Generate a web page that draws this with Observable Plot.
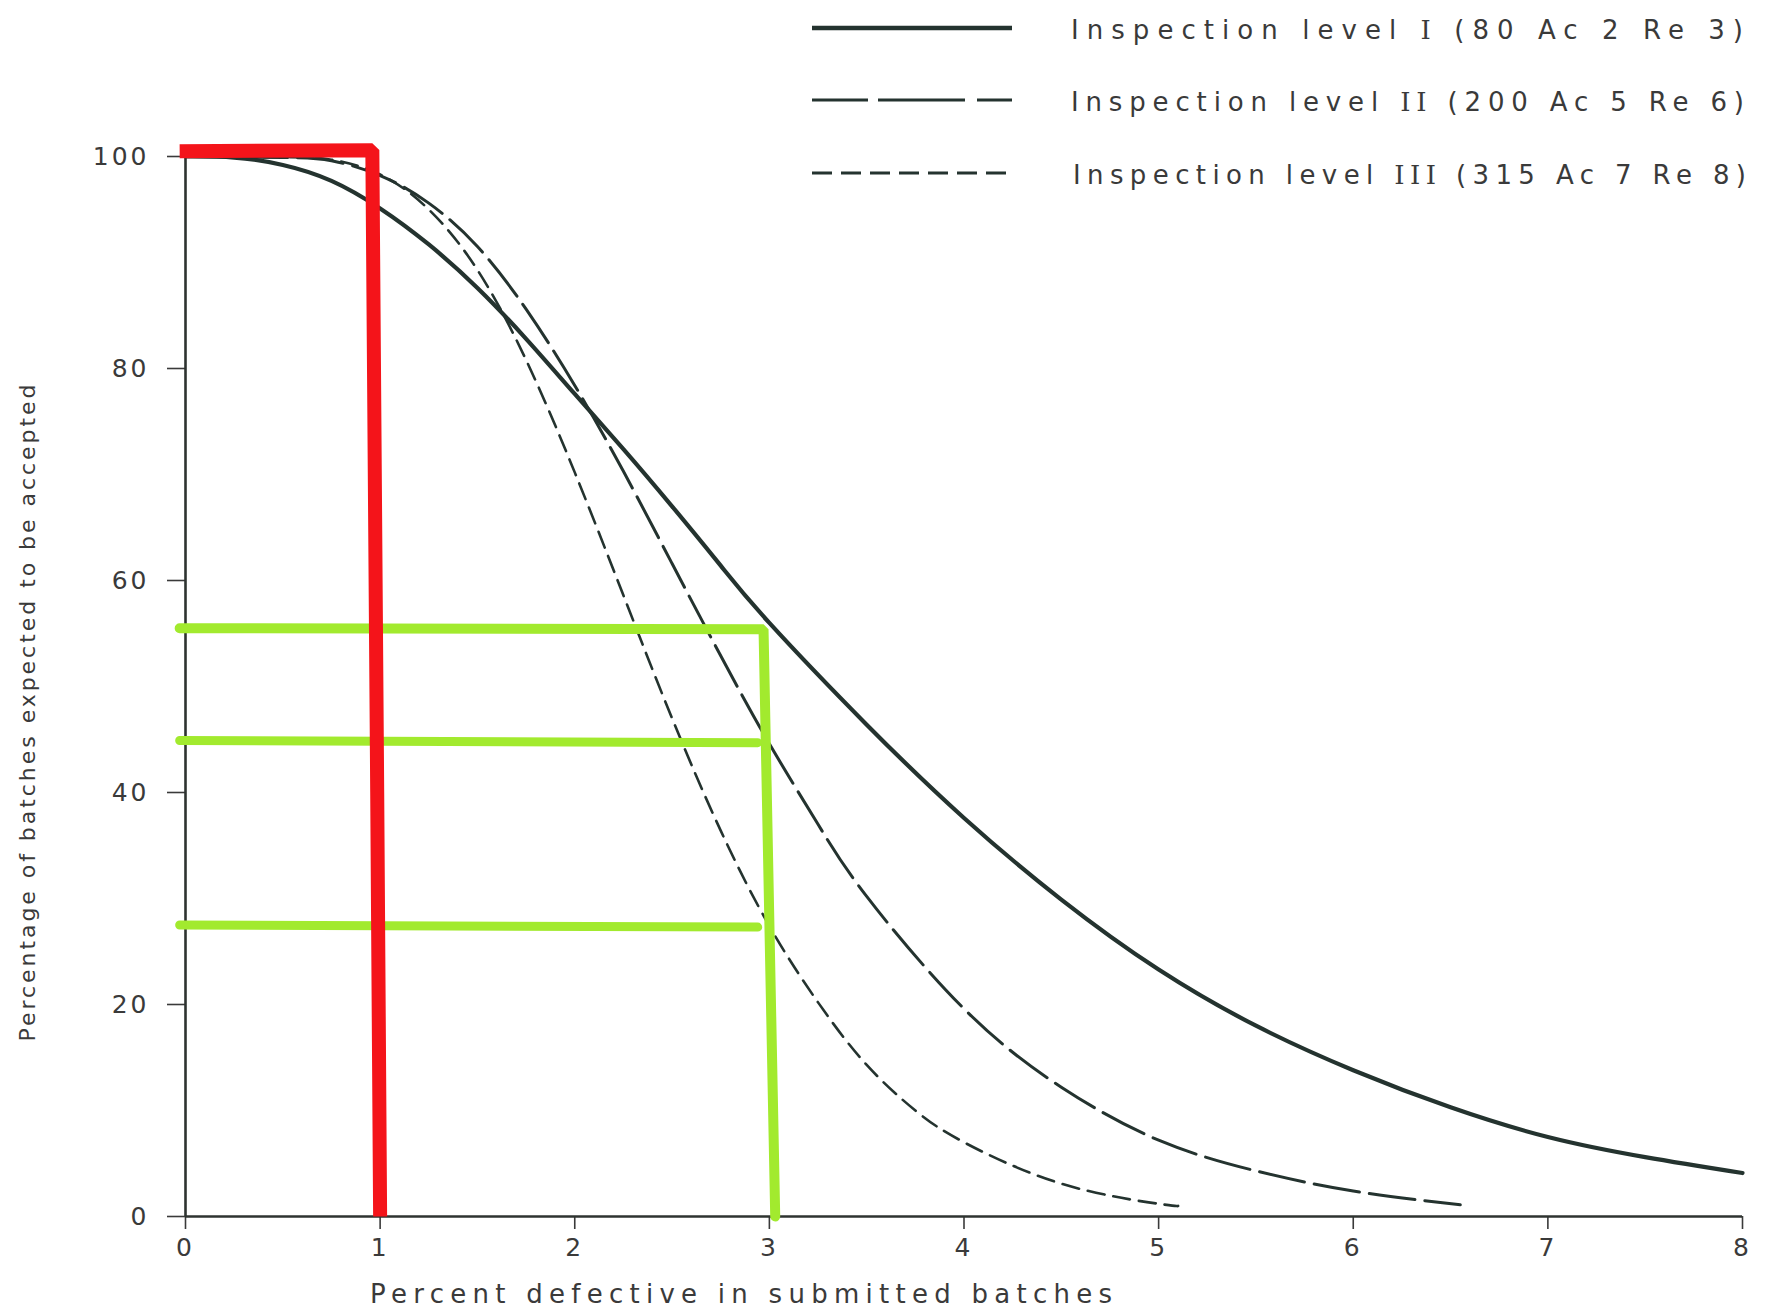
<!DOCTYPE html>
<html>
<head>
<meta charset="utf-8">
<script src="https://cdn.jsdelivr.net/npm/d3@7"></script>
<script src="https://cdn.jsdelivr.net/npm/@observablehq/plot@0.6"></script>
<style>
  html, body { margin: 0; padding: 0; background: #ffffff; }
  #wrap { position: relative; width: 1767px; height: 1310px; }
  #overlay { position: absolute; left: 0; top: 0; pointer-events: none; }
  #overlay text { font-family: "DejaVu Sans", sans-serif; fill: #3a3a3a; }
</style>
</head>
<body>
<div id="wrap"></div>
<script>
// ---- data ----
const xTicks = [0, 1, 2, 3, 4, 5, 6, 7, 8];
const yTicks = [0, 20, 40, 60, 80, 100];

const seriesPrefix = "Inspection level ";
const seriesNumerals = ["I", "II", "III"];
const seriesPlans = [" (80 Ac 2 Re 3)", " (200 Ac 5 Re 6)", " (315 Ac 7 Re 8)"];

// Level I (solid)
const lvl1X = [0, 0.25, 0.5, 0.75, 1, 1.25, 1.5, 1.75, 2, 2.25, 2.5, 2.75, 3, 3.5, 4, 4.5, 5, 5.5, 6, 6.5, 7, 7.5, 8];
const lvl1Y = [100, 99.9, 99.2, 97.7, 95.1, 91.7, 87.6, 82.8, 77.6, 72.4, 67.0, 61.4, 56.0, 46.4, 37.6, 29.9, 23.3, 18.0, 13.8, 10.3, 7.5, 5.6, 4.1];

// Level II (long dash)
const lvl2X = [0, 0.5, 0.75, 1, 1.25, 1.5, 1.75, 2, 2.25, 2.5, 2.75, 3, 3.25, 3.5, 4, 4.5, 5, 5.5, 6, 6.55];
const lvl2Y = [100, 99.9, 99.6, 98.2, 95.6, 91.5, 85.6, 78.4, 70.3, 61.6, 52.9, 44.6, 37.0, 30.2, 19.6, 12.2, 7.2, 4.3, 2.4, 1.1];

// Level III (short dash)
const lvl3X = [0, 0.5, 0.75, 1, 1.25, 1.5, 1.75, 2, 2.25, 2.5, 2.75, 3, 3.25, 3.5, 3.75, 4, 4.5, 5, 5.1];
const lvl3Y = [100, 99.95, 99.7, 98.3, 95.0, 89.3, 80.8, 70.2, 58.6, 47.0, 36.4, 27.4, 20.2, 14.3, 10.0, 7.0, 3.1, 1.2, 1.0];

// Red annotation (hand-drawn overlay)
const redX = [-0.03, 0.96, 0.985, 1.0];
const redY = [100.5, 100.6, 40, 0];

// Green annotations
const greenTopX = [-0.03, 2.97, 3.03];
const greenTopY = [55.5, 55.4, 0];
const greenMidX = [-0.03, 2.94];
const greenMidY = [44.9, 44.7];
const greenLowX = [-0.03, 2.94];
const greenLowY = [27.5, 27.3];

// ---- build ----
const ink = "#24332f";
const axisInk = "#2e3330";
const red = "#f4141a";
const green = "#a2ea2e";

const toRows = (xs, ys) => xs.map((x, i) => ({x, y: ys[i]}));

const chart = Plot.plot({
  width: 1767,
  height: 1310,
  marginLeft: 185,
  marginRight: 25,
  marginTop: 156,
  marginBottom: 94,
  x: {domain: [0, 8]},
  y: {domain: [0, 100]},
  style: {
    fontFamily: "'DejaVu Sans', sans-serif",
    fontSize: "25px",
    color: "#3a3a3a",
    background: "#ffffff",
    overflow: "visible",
    letterSpacing: "3px"
  },
  marks: [
    Plot.axisX({ticks: xTicks, tickSize: 13, tickPadding: 9, label: null, strokeWidth: 1.6}),
    Plot.axisY({ticks: yTicks, tickSize: 18, tickPadding: 18, label: null, strokeWidth: 1.6}),
    Plot.ruleY([0], {stroke: axisInk, strokeWidth: 2.6}),
    Plot.ruleX([0], {stroke: axisInk, strokeWidth: 2.6}),
    Plot.line(toRows(lvl1X, lvl1Y), {x: "x", y: "y", curve: "natural", stroke: ink, strokeWidth: 4.2}),
    Plot.line(toRows(lvl2X, lvl2Y), {x: "x", y: "y", curve: "natural", stroke: ink, strokeWidth: 3, strokeDasharray: "46,10"}),
    Plot.line(toRows(lvl3X, lvl3Y), {x: "x", y: "y", curve: "natural", stroke: ink, strokeWidth: 2.6, strokeDasharray: "17,9"}),
    Plot.line(toRows(greenTopX, greenTopY), {x: "x", y: "y", stroke: green, strokeWidth: 10, strokeLinejoin: "miter"}),
    Plot.line(toRows(greenMidX, greenMidY), {x: "x", y: "y", stroke: green, strokeWidth: 9}),
    Plot.line(toRows(greenLowX, greenLowY), {x: "x", y: "y", stroke: green, strokeWidth: 9}),
    Plot.line(toRows(redX, redY), {x: "x", y: "y", stroke: red, strokeWidth: 14, strokeLinejoin: "miter", strokeLinecap: "butt"})
  ]
});

const wrap = document.getElementById("wrap");
wrap.appendChild(chart);

// ---- legend and axis titles (overlay) ----
const NS = "http://www.w3.org/2000/svg";
const ov = document.createElementNS(NS, "svg");
ov.setAttribute("id", "overlay");
ov.setAttribute("width", 1767);
ov.setAttribute("height", 1310);
wrap.appendChild(ov);

function addText(str, attrs) {
  const t = document.createElementNS(NS, "text");
  for (const k in attrs) t.setAttribute(k, attrs[k]);
  if (str !== null) t.textContent = str;
  ov.appendChild(t);
  return t;
}
function addSpan(parent, str, attrs) {
  const s = document.createElementNS(NS, "tspan");
  for (const k in attrs || {}) s.setAttribute(k, attrs[k]);
  s.textContent = str;
  parent.appendChild(s);
}
function addLine(attrs) {
  const l = document.createElementNS(NS, "line");
  for (const k in attrs) l.setAttribute(k, attrs[k]);
  ov.appendChild(l);
}

const legendRows = [
  {y: 28, dash: null, w: 4.5, tx: 1071, len: 672},
  {y: 100, dash: "56,10,87,12,38", w: 3.2, tx: 1071, len: 673},
  {y: 173, dash: "20,9", w: 3, tx: 1073, len: 673}
];
legendRows.forEach((r, i) => {
  const a = {x1: 812, x2: 1012, y1: r.y, y2: r.y, stroke: ink, "stroke-width": r.w};
  if (r.dash) a["stroke-dasharray"] = r.dash;
  addLine(a);
  const t = addText(null, {x: r.tx, y: r.y + 11, "font-size": 26, textLength: r.len, lengthAdjust: "spacing"});
  addSpan(t, seriesPrefix);
  addSpan(t, seriesNumerals[i], {"font-family": "'DejaVu Serif', serif", "letter-spacing": "-1px"});
  addSpan(t, seriesPlans[i]);
});

addText("Percent defective in submitted batches", {
  x: 370, y: 1303, "font-size": 26, textLength: 742, lengthAdjust: "spacing"
});
addText("Percentage of batches expected to be accepted", {
  x: 0, y: 0, "font-size": 22, textLength: 657, lengthAdjust: "spacing",
  "text-anchor": "middle", transform: "translate(35,713) rotate(-90)"
});
</script>
</body>
</html>
